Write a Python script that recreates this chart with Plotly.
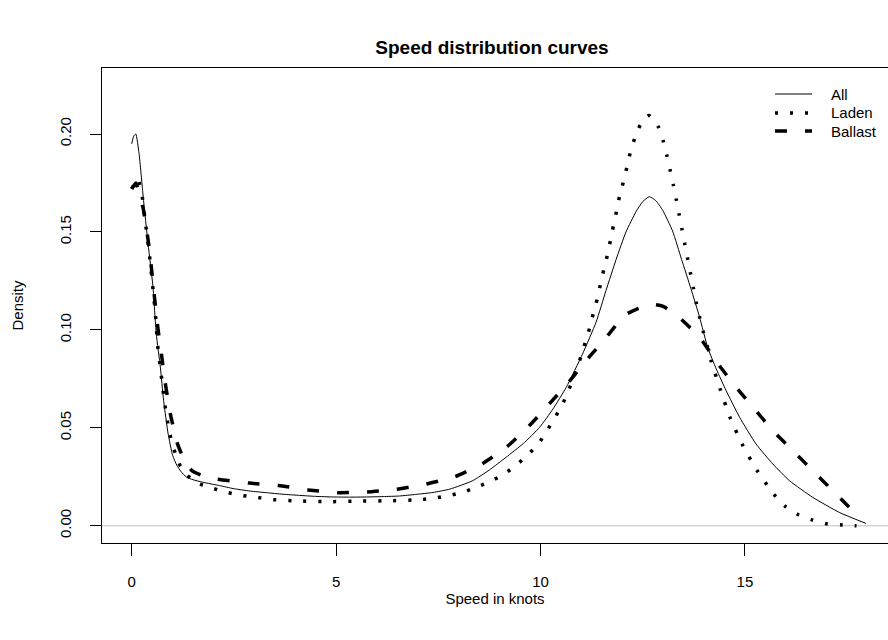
import plotly.graph_objects as go

# ---- data ----
all_x = [0.0, 0.05, 0.1, 0.18, 0.28, 0.4, 0.52, 0.6, 0.7, 0.78, 0.89, 1.0, 1.1, 1.2, 1.34, 1.5, 1.74, 2.15,
         2.48, 2.9, 3.29, 3.7, 4.11, 4.5, 4.92, 5.33, 5.74, 6.15, 6.55, 6.95, 7.37, 7.78, 8.34, 8.75,
         9.16, 9.58, 9.98, 10.3, 10.63, 11.03, 11.36, 11.6, 11.85, 12.09, 12.34, 12.5, 12.66, 12.82,
         12.99, 13.23, 13.45, 13.68, 13.89, 14.09, 14.3, 14.54, 14.87, 15.27, 15.68, 16.09, 16.66,
         17.31, 17.96]
all_y = [0.195, 0.199, 0.200, 0.190, 0.168, 0.144, 0.122, 0.098, 0.081, 0.064, 0.047, 0.036, 0.031, 0.0278,
         0.0248, 0.0235, 0.0222, 0.0205, 0.0190, 0.0177, 0.0169, 0.0161, 0.0155, 0.0150, 0.0147,
         0.0146, 0.0147, 0.0149, 0.0152, 0.0160, 0.0170, 0.0187, 0.0230, 0.0285, 0.0350, 0.0420,
         0.0503, 0.0595, 0.0707, 0.0878, 0.1040, 0.1200, 0.1360, 0.1500, 0.1605, 0.1655, 0.1680,
         0.1660, 0.1610, 0.1505, 0.1360, 0.1210, 0.1066, 0.0910, 0.0800, 0.0690, 0.0554, 0.0418,
         0.0316, 0.0230, 0.0145, 0.0068, 0.0012]

laden_x = [0.0, 0.08, 0.15, 0.25, 0.34, 0.43, 0.51, 0.58, 0.63, 0.71, 0.81, 0.93, 1.14, 1.34, 1.62, 1.97,
           2.33, 2.69, 3.05, 3.42, 4.16, 4.89, 5.62, 6.36, 7.09, 7.45, 7.82, 8.17, 8.51, 8.85, 9.16,
           9.46, 9.73, 9.98, 10.18, 10.37, 10.55, 10.69, 10.83, 10.95, 11.06, 11.17, 11.26, 11.36,
           11.44, 11.52, 11.61, 11.69, 11.76, 11.84, 11.91, 12.0, 12.09, 12.17, 12.27, 12.4, 12.52,
           12.65, 12.78, 12.88, 13.0, 13.09, 13.17, 13.25, 13.32, 13.39, 13.46, 13.53, 13.6, 13.67,
           13.74, 13.81, 13.89, 13.98, 14.08, 14.17, 14.4, 14.64, 14.95, 15.31, 15.75, 16.0, 16.32,
           16.66, 17.02, 17.38, 17.73]
laden_y = [0.172, 0.175, 0.177, 0.169, 0.154, 0.139, 0.123, 0.108, 0.093, 0.079, 0.062, 0.047, 0.0324,
           0.0260, 0.0217, 0.0192, 0.0170, 0.0155, 0.0145, 0.0134, 0.0126, 0.0123, 0.0126, 0.0128,
           0.0134, 0.0143, 0.0157, 0.0176, 0.0203, 0.0234, 0.0271, 0.0319, 0.0370, 0.0428, 0.0493,
           0.0558, 0.0626, 0.0694, 0.0767, 0.0839, 0.0912, 0.0986, 0.1060, 0.1134, 0.1209, 0.1284,
           0.1359, 0.1436, 0.1509, 0.1586, 0.1662, 0.1734, 0.1810, 0.1884, 0.1958, 0.2029, 0.2075,
           0.2095, 0.2070, 0.2037, 0.1966, 0.1891, 0.1816, 0.1739, 0.1666, 0.1591, 0.1514, 0.1437,
           0.1362, 0.1287, 0.1214, 0.1139, 0.1066, 0.0991, 0.0916, 0.0844, 0.0694, 0.0551, 0.0409,
           0.0278, 0.0150, 0.0097, 0.0055, 0.0029, 0.0009, 0.0004, 0.0000]

ballast_x = [0.0, 0.1, 0.2, 0.28, 0.4, 0.48, 0.56, 0.64, 0.73, 0.83, 0.95, 1.12, 1.3, 1.48, 1.75, 2.07,
             2.87, 3.59, 4.31, 5.03, 5.76, 6.47, 7.2, 7.9, 8.57, 9.16, 9.69, 10.18, 10.69, 11.12,
             11.61, 12.05, 12.4, 12.71, 13.0, 13.36, 13.89, 14.34, 14.78, 15.23, 15.68, 16.17, 16.66,
             17.15, 17.55, 17.85]
ballast_y = [0.172, 0.175, 0.168, 0.162, 0.146, 0.132, 0.116, 0.101, 0.087, 0.0716, 0.0566, 0.0418,
             0.0330, 0.0280, 0.0255, 0.0239, 0.0218, 0.0206, 0.0183, 0.0169, 0.0172, 0.0186, 0.0213,
             0.0250, 0.0316, 0.0400, 0.0503, 0.0614, 0.0733, 0.0844, 0.0962, 0.1074, 0.1110, 0.1130,
             0.1120, 0.1069, 0.0963, 0.0827, 0.0708, 0.0597, 0.0486, 0.0384, 0.0281, 0.0179, 0.0095,
             0.0040]

series_names = ["All", "Laden", "Ballast"]
x_ticks = [0, 5, 10, 15]
y_ticks = [0.00, 0.05, 0.10, 0.15, 0.20]
y_tick_text = ["0.00", "0.05", "0.10", "0.15", "0.20"]

FONT = "Liberation Sans, Arial, Helvetica, sans-serif"
W, H = 888, 640
ML, MR, MT, MB = 102, 0, 68, 97

styles = [
    dict(color="black", width=1),
    dict(color="black", width=3.5, dash="3px,12px"),
    dict(color="black", width=3.5, dash="12px,18px"),
]
data = [(all_x, all_y), (laden_x, laden_y), (ballast_x, ballast_y)]

fig = go.Figure()
for name, (xs, ys), st in zip(series_names, data, styles):
    fig.add_trace(go.Scatter(x=xs, y=ys, mode="lines", name=name, showlegend=False,
                             line=dict(shape="spline", smoothing=0.5, **st)))

fig.add_shape(type="line", xref="paper", yref="y", x0=0, x1=1, y0=0, y1=0,
              line=dict(color="#BEBEBE", width=1), layer="below")

# legend (no box), drawn in pixel positions converted to paper fractions
pw, ph = W - ML - MR, H - MT - MB
def px(xp):
    return (xp - ML) / pw
def py(yp):
    return (H - MB - yp) / ph
legend_rows = [94, 113, 131]
for name, st, yr in zip(series_names, styles, legend_rows):
    fig.add_shape(type="line", xref="paper", yref="paper", x0=px(775), x1=px(812),
                  y0=py(yr), y1=py(yr), line=st)
    fig.add_annotation(text=name, xref="paper", yref="paper", x=px(829), y=py(yr),
                       xanchor="left", yanchor="middle", showarrow=False,
                       font=dict(size=15, family=FONT, color="black"))

fig.update_layout(
    width=W, height=H,
    margin=dict(l=ML, r=MR, t=MT, b=MB),
    paper_bgcolor="white", plot_bgcolor="white",
    font=dict(family=FONT, size=15, color="black"),
    title=dict(text="<b>Speed distribution curves</b>", x=492 / W, xref="container", xanchor="center",
               y=1 - 47 / H, yref="container", yanchor="middle", font=dict(size=19, family=FONT)),
    showlegend=False,
)
fig.update_xaxes(range=[-0.727, 18.5], tickvals=x_ticks, ticks="outside", ticklen=12, tickwidth=1,
                 tickcolor="black", showline=True, linecolor="black", linewidth=1, mirror=True,
                 showgrid=False, zeroline=False, ticklabelstandoff=13, automargin=False,
                 title=dict(text="Speed in knots", standoff=0, font=dict(size=15)))
fig.update_yaxes(range=[-0.0088, 0.2337], tickvals=y_ticks, ticktext=y_tick_text, ticks="outside",
                 ticklen=11, tickwidth=1, tickcolor="black", showline=True, linecolor="black",
                 linewidth=1, mirror=False, showgrid=False, zeroline=False, tickangle=-90,
                 ticklabelstandoff=13, automargin=False,
                 title=dict(text="Density", standoff=29, font=dict(size=15)))

fig.write_html("out.html", post_script="document.body.style.margin='0';",
               config={"displayModeBar": False})
